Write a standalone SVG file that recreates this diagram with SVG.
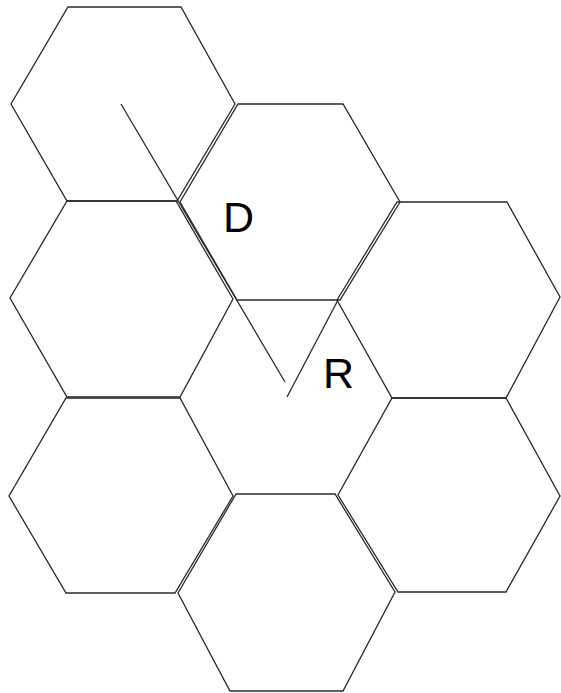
<svg xmlns="http://www.w3.org/2000/svg" width="561" height="693" viewBox="0 0 561 693">
<style>
.hex{fill:none;stroke:#2a2a2a;stroke-width:1.3;stroke-linejoin:miter}
.ln{fill:none;stroke:#2a2a2a;stroke-width:1.3}
.lbl{font-family:"Liberation Sans",Arial,sans-serif;font-size:43px;fill:#000}
</style>
<rect width="561" height="693" fill="#fff"/>
<g id="hexA"><polygon class="hex" points="68,7 181,7 235,104 177,201 67,201 11,104"/></g>
<g id="hexB"><polygon class="hex" points="238,104 343,104 400,202 340,300 237,300 180,202"/></g>
<g id="hexC"><polygon class="hex" points="67,201 176,201 233,299 180,397 67,397 10,298"/></g>
<g id="hexD"><polygon class="hex" points="397,202 507,202 560,297 506,398 392,398 337,300"/></g>
<g id="hexF"><polygon class="hex" points="66,398 180,398 233,496 175,593 66,593 9,496"/></g>
<g id="hexG"><polygon class="hex" points="392,398 506,398 560,496 506,592 398,592 338,495"/></g>
<g id="hexH"><polygon class="hex" points="236,494 335,494 395,592 343,691 230,691 178,593"/></g>
<g id="connectors">
<line class="ln" x1="121" y1="104" x2="285" y2="382"/>
<line class="ln" x1="287" y1="397" x2="338" y2="300"/>
</g>
<g id="labels">
<text class="lbl" x="223" y="232">D</text>
<text class="lbl" x="323" y="388">R</text>
</g>
</svg>
